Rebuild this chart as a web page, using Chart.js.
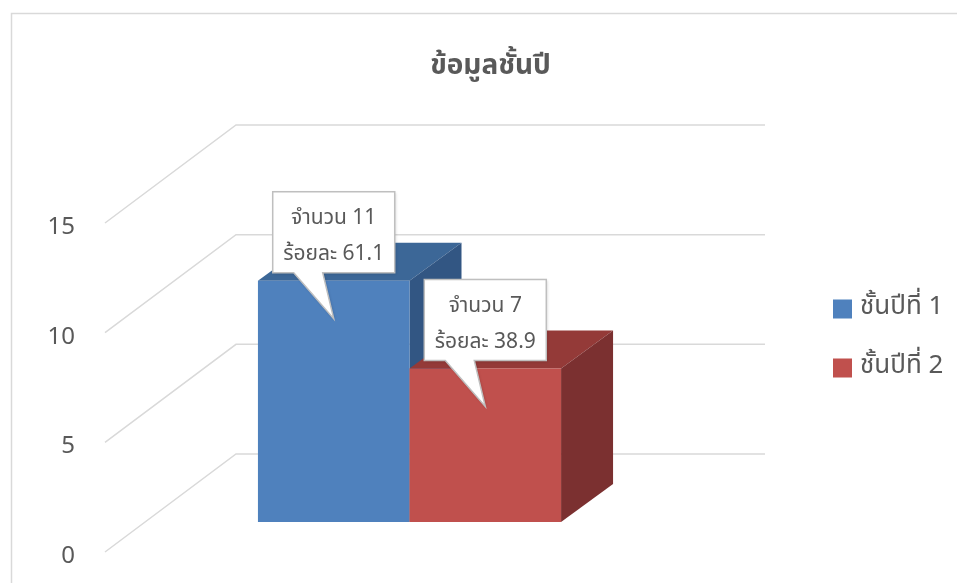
<!DOCTYPE html>
<html>
<head>
<meta charset="utf-8">
<script src="https://cdn.jsdelivr.net/npm/chart.js"></script>
<style>
	body { margin: 0; background: #fff; }
	#wrap { width: 957px; height: 583px; }
</style>
</head>
<body>
<div id="wrap"><canvas id="myChart" width="957" height="583"></canvas></div>
<script>
var categories = ["ข้อมูลชั้นปี"];
var seriesNames = ["ชั้นปีที่ 1", "ชั้นปีที่ 2"];
var countYear1 = [11];
var countYear2 = [7];
var percentYear1 = [61.1];
var percentYear2 = [38.9];
var yTicks = [0, 5, 10, 15];

var FONT = "'Noto Sans Thai', 'Leelawadee UI', Tahoma, 'Noto Sans', sans-serif";
var TEXT = "#595959";
var faces = [
	{ front: "#4f81bd", top: "#3c6797", side: "#325683" },
	{ front: "#c0504d", top: "#943a38", side: "#7b3030" }
];
var percents = [percentYear1, percentYear2];

// perspective offsets (floor depth, bar front plane, bar depth)
var WALL_DX = 131, WALL_DY = -98;
var FRONT_DX = 40, FRONT_DY = -30;
var DEPTH_DX = 52, DEPTH_DY = -38;

var bar3d = {
	id: "bar3d",
	beforeDraw: function(chart) {
		var ctx = chart.ctx;
		ctx.save();
		ctx.strokeStyle = "#d9d9d9";
		ctx.lineWidth = 1.5;
		ctx.beginPath();
		ctx.moveTo(11.5, chart.height);
		ctx.lineTo(11.5, 13.5);
		ctx.lineTo(chart.width, 13.5);
		ctx.stroke();
		ctx.restore();
	},
	beforeDatasetsDraw: function(chart) {
		var ctx = chart.ctx;
		var area = chart.chartArea;
		var y = chart.scales.y;
		ctx.save();

		// gridlines: side wall + back wall
		ctx.strokeStyle = "#d9d9d9";
		ctx.lineWidth = 1.5;
		yTicks.forEach(function(v) {
			var py = y.getPixelForValue(v);
			ctx.beginPath();
			ctx.moveTo(area.left, py);
			ctx.lineTo(area.left + WALL_DX, py + WALL_DY);
			ctx.lineTo(area.right + WALL_DX, py + WALL_DY);
			ctx.stroke();
		});

		var boxes = [];
		chart.data.datasets.forEach(function(ds, i) {
			var meta = chart.getDatasetMeta(i);
			var c = faces[i];
			meta.data.forEach(function(bar, j) {
				var p = bar.getProps(["x", "y", "base", "width"], true);
				var x0 = p.x - p.width / 2 + FRONT_DX;
				var x1 = p.x + p.width / 2 + FRONT_DX;
				var yt = p.y + FRONT_DY;
				var yb = p.base + FRONT_DY;

				ctx.fillStyle = c.top;
				ctx.beginPath();
				ctx.moveTo(x0, yt);
				ctx.lineTo(x0 + DEPTH_DX, yt + DEPTH_DY);
				ctx.lineTo(x1 + DEPTH_DX, yt + DEPTH_DY);
				ctx.lineTo(x1, yt);
				ctx.closePath();
				ctx.fill();

				ctx.fillStyle = c.side;
				ctx.beginPath();
				ctx.moveTo(x1, yt);
				ctx.lineTo(x1 + DEPTH_DX, yt + DEPTH_DY);
				ctx.lineTo(x1 + DEPTH_DX, yb + DEPTH_DY);
				ctx.lineTo(x1, yb);
				ctx.closePath();
				ctx.fill();

				ctx.fillStyle = c.front;
				ctx.fillRect(x0, yt, x1 - x0, yb - yt);

				boxes.push({
					cx: (x0 + x1) / 2,
					top: yt,
					line1: "จำนวน " + ds.data[j],
					line2: "ร้อยละ " + percents[i][j].toFixed(1)
				});
			});
		});

		// callouts
		boxes.forEach(function(b) {
			var w = 122, h = 81;
			var bx = b.cx - w / 2, by = b.top - 8 - h;
			var tipX = b.cx, tipY = b.top + 38;
			ctx.save();
			ctx.shadowColor = "rgba(0,0,0,0.18)";
			ctx.shadowBlur = 3;
			ctx.shadowOffsetX = 1;
			ctx.shadowOffsetY = 1;
			ctx.beginPath();
			ctx.moveTo(bx, by);
			ctx.lineTo(bx + w, by);
			ctx.lineTo(bx + w, by + h);
			ctx.lineTo(b.cx - 11, by + h);
			ctx.lineTo(tipX, tipY);
			ctx.lineTo(b.cx - 40, by + h);
			ctx.lineTo(bx, by + h);
			ctx.closePath();
			ctx.fillStyle = "#fff";
			ctx.fill();
			ctx.shadowColor = "transparent";
			ctx.strokeStyle = "#bfbfbf";
			ctx.lineWidth = 1.5;
			ctx.stroke();
			ctx.fillStyle = TEXT;
			ctx.font = "21px " + FONT;
			ctx.textAlign = "center";
			ctx.textBaseline = "middle";
			ctx.fillText(b.line1, b.cx, by + 28);
			ctx.fillText(b.line2, b.cx, by + 64);
			ctx.restore();
		});

		ctx.restore();
		return false;
	},
	afterDraw: function(chart) {
		var ctx = chart.ctx;
		ctx.save();
		ctx.font = "26px " + FONT;
		ctx.textBaseline = "middle";
		ctx.textAlign = "left";
		chart.data.datasets.forEach(function(ds, i) {
			var cy = 309 + i * 59;
			ctx.fillStyle = faces[i].front;
			ctx.fillRect(833, cy - 9.5, 19, 19);
			ctx.fillStyle = TEXT;
			ctx.fillText(ds.label, 860, cy);
		});
		ctx.restore();
	}
};

var ctx = document.getElementById("myChart");

var data = {
	labels : categories,
	datasets : [
		{
			label : seriesNames[0],
			data : countYear1,
			backgroundColor : faces[0].front
		},
		{
			label : seriesNames[1],
			data : countYear2,
			backgroundColor : faces[1].front
		}
	]
};

var myChart = new Chart(ctx, {
	type : "bar",
	data : data,
	plugins : [bar3d],
	options : {
		responsive : false,
		animation : false,
		devicePixelRatio : 1,
		categoryPercentage : 0.573,
		barPercentage : 1,
		layout : {
			padding : { left : 24, right : 0, top : 0, bottom : 31 }
		},
		plugins : {
			legend : { display : false },
			tooltip : { enabled : false },
			title : {
				display : true,
				text : "ข้อมูลชั้นปี",
				color : TEXT,
				font : { family : FONT, size : 28, weight : "bold" },
				padding : { top : 52, bottom : 137.4 }
			}
		},
		scales : {
			x : { display : false },
			y : {
				min : 0,
				max : 15,
				afterFit : function(scale) { scale.width = 81; },
				grid : { display : false, drawTicks : false },
				border : { display : false },
				ticks : {
					stepSize : 5,
					padding : 30,
					labelOffset : 6,
					color : TEXT,
					font : { family : FONT, size : 24, lineHeight : 0.05 }
				}
			},
			side : {
				type : "linear",
				position : "right",
				afterFit : function(scale) { scale.width = 323; },
				grid : { display : false, drawTicks : false },
				border : { display : false },
				ticks : { display : false }
			}
		}
	}
});
</script>
</body>
</html>
